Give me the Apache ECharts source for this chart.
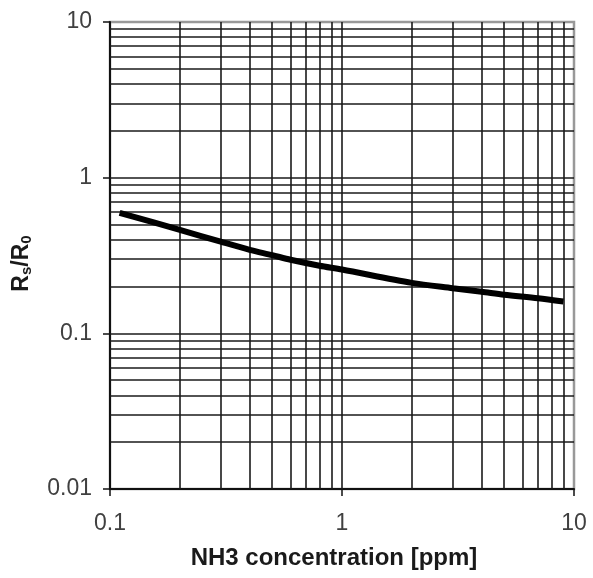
<!DOCTYPE html>
<html><head><meta charset="utf-8">
<script src="https://cdn.jsdelivr.net/npm/echarts@6/dist/echarts.min.js"></script>
<style>html,body{margin:0;padding:0;background:#fff}#c{width:593px;height:578px}</style>
</head><body><div id="c"></div>
<script>
// Data
var concentration = [0.11, 0.2, 0.3, 0.4, 0.5, 0.6, 0.8, 1, 2, 3, 4, 5, 7, 9];
var ratio = [0.595, 0.462, 0.388, 0.344, 0.318, 0.297, 0.272, 0.257, 0.211, 0.195, 0.185, 0.177, 0.168, 0.160];
// Grid lines (log-decade subdivisions)
var gridX = [0.2,0.3,0.4,0.5,0.6,0.7,0.8,0.9,1,2,3,4,5,6,7,8,9];
var gridY = [0.02,0.03,0.04,0.05,0.06,0.07,0.08,0.09,0.1,0.2,0.3,0.4,0.5,0.6,0.7,0.8,0.9,1,2,3,4,5,6,7,8,9];
var xTicks = [0.1, 1, 10];
var yTicks = [0.01, 0.1, 1, 10];

var chart = echarts.init(document.getElementById('c'), null, {renderer:'canvas'});
var FF = 'Liberation Sans, Arial, sans-serif';
var gridLine = {color:'#1a1a1a', width:1.6, type:'solid'};
var marks = gridX.map(function(v){return {xAxis:v};}).concat(gridY.map(function(v){return {yAxis:v};}));
var fmt = function(v){ return String(+v.toPrecision(3)); };
chart.setOption({
  animation:false,
  backgroundColor:'#fff',
  grid:{left:110, top:22, width:464, height:467, show:true, borderColor:'#999', borderWidth:2.5, backgroundColor:'#fff'},
  xAxis:{type:'log', logBase:10, min:0.1, max:10,
    axisLine:{show:true, lineStyle:{color:'#111', width:2}},
    axisTick:{show:true, length:7, inside:false, lineStyle:{color:'#111', width:1.5}},
    splitLine:{show:false}, minorTick:{show:false},
    axisLabel:{margin:23, color:'#404040', fontSize:23, fontFamily:FF, formatter:fmt},
    name:'NH3 concentration [ppm]', nameLocation:'middle', nameGap:57,
    nameTextStyle:{fontSize:24, fontWeight:'bold', color:'#1a1a1a', fontFamily:FF, padding:[0,16,0,0]}
  },
  yAxis:{type:'log', logBase:10, min:0.01, max:10,
    axisLine:{show:true, lineStyle:{color:'#111', width:2}},
    axisTick:{show:true, length:7, inside:false, lineStyle:{color:'#111', width:1.5}},
    splitLine:{show:false}, minorTick:{show:false},
    axisLabel:{margin:18, color:'#404040', fontSize:23, fontFamily:FF, formatter:fmt},
    name:'R{sub|s}/R{sub|0}', nameLocation:'middle', nameGap:76, nameRotate:90,
    nameTextStyle:{fontSize:23, fontWeight:'bold', color:'#1a1a1a', fontFamily:FF, padding:[0,16,0,0],
      rich:{sub:{fontSize:15, fontWeight:'bold', color:'#1a1a1a', verticalAlign:'bottom', padding:[9,0,0,0], fontFamily:FF}}}
  },
  series:[{
    type:'line', data:concentration.map(function(x,i){return [x, ratio[i]];}),
    smooth:0.3, symbol:'none', lineStyle:{color:'#000', width:6}, z:5,
    markLine:{silent:true, symbol:['none','none'], label:{show:false}, lineStyle:gridLine, data:marks, animation:false, z:1}
  }]
});
</script></body></html>
